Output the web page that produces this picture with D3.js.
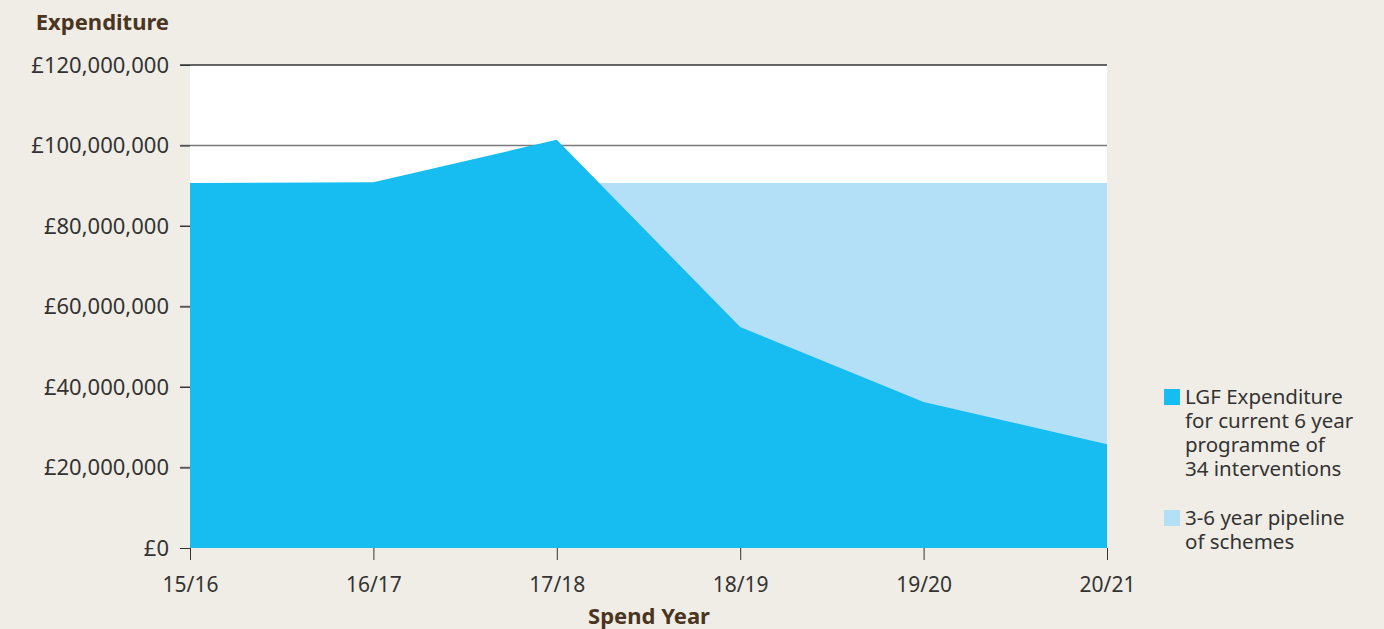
<!DOCTYPE html>
<html>
<head>
<meta charset="utf-8">
<script src="https://cdn.jsdelivr.net/npm/d3@7"></script>
<style>
  body { margin: 0; background: #f0ede6; }
  svg { display: block; font-family: 'Noto Sans', sans-serif; }
  .tick text { fill: #333; font-size: 21px; font-family: 'Noto Sans', sans-serif; }
  .y-axis .tick text { font-size: 22px; }
</style>
</head>
<body>
<div id="wrapper"></div>
<script>
const years = ['15/16', '16/17', '17/18', '18/19', '19/20', '20/21']
const lgfSpend = [90700000, 90900000, 101400000, 54900000, 36300000, 25800000]
const pipeline = [90700000, 90700000, 90700000, 90700000, 90700000, 90700000]
const yTicks = [0, 20000000, 40000000, 60000000, 80000000, 100000000, 120000000]
const legendItems = [
  { lines: ['LGF Expenditure', 'for current 6 year', 'programme of', '34 interventions'], color: '#17bdf0' },
  { lines: ['3-6 year pipeline', 'of schemes'], color: '#b3e0f6' },
]

const dimensions = {
  width: 1384,
  height: 629,
  margin: { top: 65, right: 277, bottom: 81, left: 190 },
}
dimensions.boundedWidth = dimensions.width - dimensions.margin.left - dimensions.margin.right
dimensions.boundedHeight = dimensions.height - dimensions.margin.top - dimensions.margin.bottom

const wrapper = d3.select('#wrapper').append('svg')
  .attr('width', dimensions.width)
  .attr('height', dimensions.height)

const bounds = wrapper.append('g')
  .attr('transform', `translate(${dimensions.margin.left},${dimensions.margin.top})`)

const xScale = d3.scalePoint().domain(years).range([0, dimensions.boundedWidth])
const yScale = d3.scaleLinear().domain([0, 120000000]).range([dimensions.boundedHeight, 0])

// plot background
bounds.append('rect')
  .attr('width', dimensions.boundedWidth)
  .attr('height', dimensions.boundedHeight)
  .attr('fill', '#fff')

// gridlines
bounds.selectAll('.grid').data(yTicks.filter(d => d > 0)).enter().append('line')
  .attr('x1', -10).attr('x2', dimensions.boundedWidth)
  .attr('y1', d => yScale(d)).attr('y2', d => yScale(d))
  .attr('stroke', d => d === 120000000 ? '#333' : '#7a7a7a')
  .attr('stroke-width', 1.3)

const area = d3.area()
  .x((d, i) => xScale(years[i]))
  .y0(yScale(0))
  .y1(d => yScale(d))

bounds.append('path').attr('d', area(pipeline)).attr('fill', '#b3e0f6')
bounds.append('path').attr('d', area(lgfSpend)).attr('fill', '#17bdf0')

// axes
const yAxis = bounds.append('g')
  .attr('class', 'y-axis')
  .call(d3.axisLeft(yScale).tickValues(yTicks).tickSize(10).tickPadding(11)
    .tickFormat(d => '£' + d3.format(',')(d)))
yAxis.select('.domain').remove()
yAxis.selectAll('.tick line').attr('stroke', '#333')

const xAxis = bounds.append('g')
  .attr('transform', `translate(0,${dimensions.boundedHeight})`)
  .call(d3.axisBottom(xScale).tickSize(12).tickPadding(17))
xAxis.select('.domain').remove()
xAxis.selectAll('.tick line').attr('stroke', '#333')

// titles
wrapper.append('text')
  .attr('x', 169).attr('y', 30)
  .attr('text-anchor', 'end')
  .attr('fill', '#4a3520')
  .style('font-size', '22px').style('font-weight', 'bold')
  .text('Expenditure')

wrapper.append('text')
  .attr('x', 649).attr('y', 624)
  .attr('text-anchor', 'middle')
  .attr('fill', '#4a3520')
  .style('font-size', '22px').style('font-weight', 'bold')
  .text('Spend Year')

// legend
const legend = wrapper.append('g').attr('transform', 'translate(1164,389)')
let offset = 0
legendItems.forEach(item => {
  const g = legend.append('g').attr('transform', `translate(0,${offset})`)
  g.append('rect').attr('width', 16).attr('height', 16).attr('fill', item.color)
  g.append('text')
    .attr('x', 21).attr('y', 15)
    .attr('fill', '#333').style('font-size', '20.5px')
    .selectAll('tspan').data(item.lines).enter().append('tspan')
    .attr('x', 21).attr('dy', (d, i) => i === 0 ? 0 : 24)
    .text(d => d)
  offset += 121
})
</script>
</body>
</html>
